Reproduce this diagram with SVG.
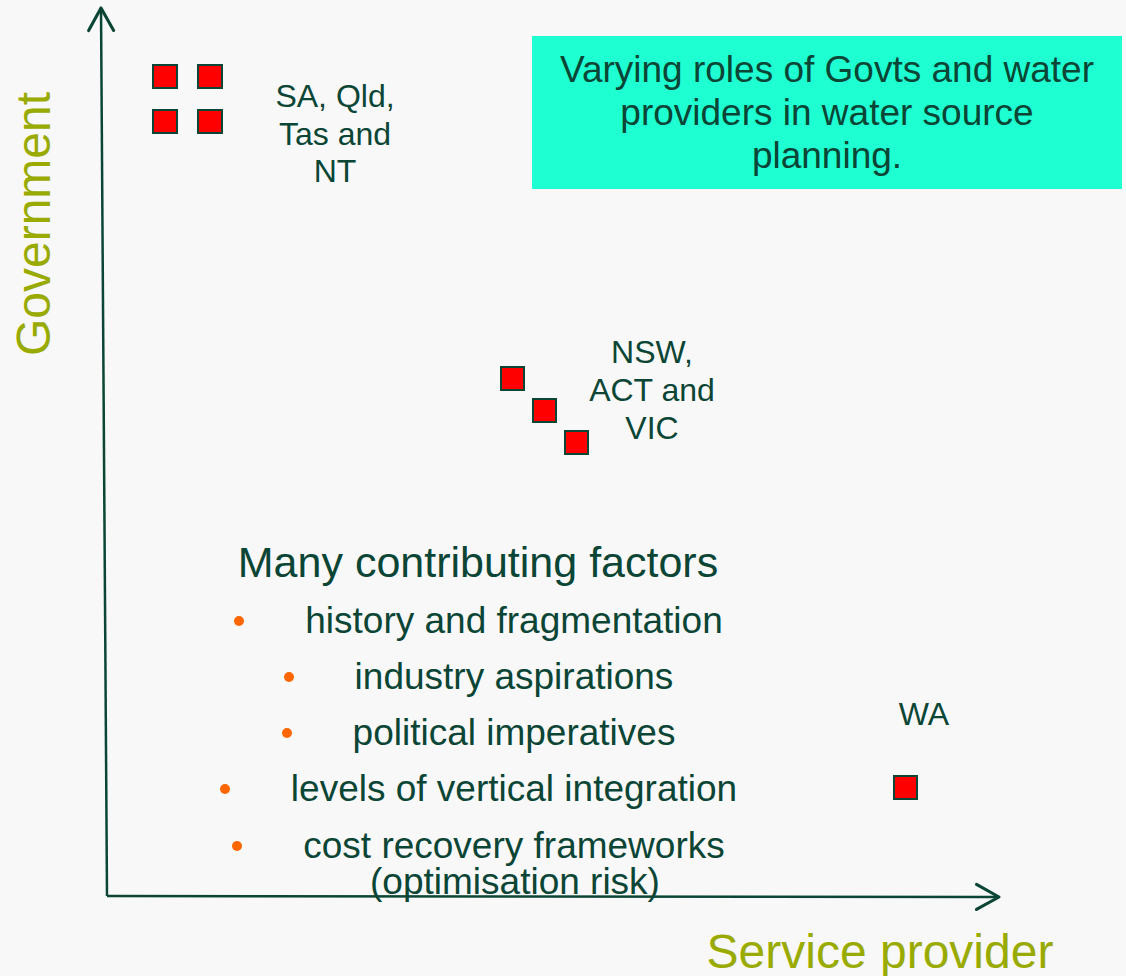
<svg xmlns="http://www.w3.org/2000/svg" width="1126" height="976" viewBox="0 0 1126 976">
<style>
.t{font-family:"Liberation Sans",Arial,sans-serif;fill:#0b4535;text-anchor:middle}
.lab{font-size:32px}
.axl{font-family:"Liberation Sans",Arial,sans-serif;fill:#99aa00;font-size:48px;text-anchor:middle}
.sq{fill:#ff0000;stroke:#0b4535;stroke-width:2}
.ax{stroke:#0b4535;stroke-width:2.5;fill:none}
.b{fill:#ff6600}
.li{font-size:37px}
</style>
<defs>
<marker id="arr" markerUnits="userSpaceOnUse" markerWidth="30" markerHeight="30" viewBox="-20 -12 24 24" refX="0" refY="0" orient="auto" overflow="visible">
<path d="M-18,-10 L0,0 L-18,10" fill="none" stroke="#0b4535" stroke-width="2.5" stroke-linecap="round" stroke-linejoin="round"/>
</marker>
</defs>
<rect width="1126" height="976" fill="#f8f8f8"/>
<g id="connectors">
<line class="ax" x1="107" y1="896" x2="101" y2="8" marker-end="url(#arr)"/>
<line class="ax" x1="107" y1="896" x2="999" y2="897" marker-end="url(#arr)"/>
</g>
<g id="axis-labels">
<text class="axl" transform="translate(50,224) rotate(-90)">Government</text>
<text class="axl" x="880" y="968">Service provider</text>
</g>
<g id="title-box">
<rect x="532" y="36" width="590" height="153" fill="#1effd2"/>
<text class="t" font-size="37" x="827" y="82">Varying roles of Govts and water</text>
<text class="t" font-size="37" x="827" y="125">providers in water source</text>
<text class="t" font-size="37" x="827" y="168">planning.</text>
</g>
<g id="sa-qld-tas-nt">
<rect class="sq" x="153" y="65" width="24" height="23"/>
<rect class="sq" x="198" y="65" width="24" height="23"/>
<rect class="sq" x="153" y="110" width="24" height="23"/>
<rect class="sq" x="198" y="110" width="24" height="23"/>
<text class="t lab" x="335" y="107">SA, Qld,</text>
<text class="t lab" x="335" y="145">Tas and</text>
<text class="t lab" x="335" y="182">NT</text>
</g>
<g id="nsw-act-vic">
<rect class="sq" x="501" y="367" width="23" height="23"/>
<rect class="sq" x="533" y="399" width="23" height="23"/>
<rect class="sq" x="565" y="431" width="23" height="23"/>
<text class="t lab" x="652" y="363">NSW,</text>
<text class="t lab" x="652" y="401">ACT and</text>
<text class="t lab" x="652" y="439">VIC</text>
</g>
<g id="wa">
<rect class="sq" x="894" y="776" width="23" height="23"/>
<text class="t lab" x="924" y="725">WA</text>
</g>
<g id="factors">
<text class="t" font-size="43" x="478" y="577">Many contributing factors</text>
<circle class="b" cx="239" cy="621" r="5"/>
<text class="t li" x="514" y="633">history and fragmentation</text>
<circle class="b" cx="289" cy="677" r="5"/>
<text class="t li" x="514" y="689">industry aspirations</text>
<circle class="b" cx="287" cy="733" r="5"/>
<text class="t li" x="514" y="745">political imperatives</text>
<circle class="b" cx="225" cy="789" r="5"/>
<text class="t li" x="514" y="801">levels of vertical integration</text>
<circle class="b" cx="237" cy="846" r="5"/>
<text class="t li" x="514" y="858">cost recovery frameworks</text>
<text class="t li" x="515" y="894">(optimisation risk)</text>
</g>
</svg>
